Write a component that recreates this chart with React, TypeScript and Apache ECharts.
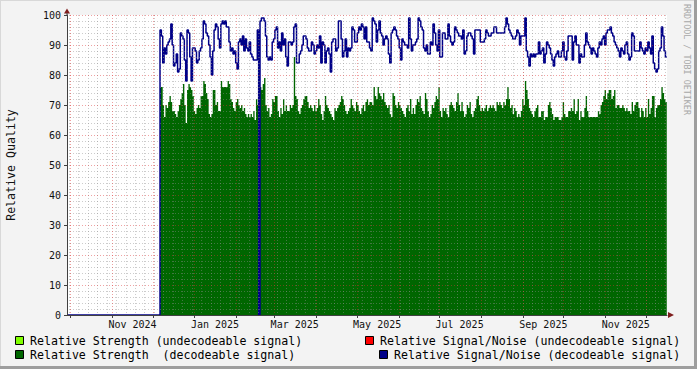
import { useEffect, useRef } from 'react';
import * as echarts from 'echarts';

const DAY = 86400000;
const axisStart = Date.UTC(2024, 8, 28, 12);
const axisDays = 444;
const dataStart = Date.UTC(2024, 11, 6, 8);

const monthNames = ['Jan', 'Feb', 'Mar', 'Apr', 'May', 'Jun', 'Jul', 'Aug', 'Sep', 'Oct', 'Nov', 'Dec'];
const labelMonths: [number, number][] = [[2024, 10], [2025, 0], [2025, 2], [2025, 4], [2025, 6], [2025, 8], [2025, 10]];
const gridMonthsFrom: [number, number] = [2024, 9];
const gridMonthsCount = 15;
const firstMonday = Date.UTC(2024, 8, 30);

const legendLeft = ['Relative Strength (undecodeable signal)', 'Relative Strength  (decodeable signal)'];
const legendRight = ['Relative Signal/Noise (undecodeable signal)', 'Relative Signal/Noise (decodeable signal)'];
const colors = { undecStrength: '#80FF00', decStrength: '#006600', undecSnr: '#FF0000', decSnr: '#000088' };

// Relative Strength (decodeable signal), one value per day from dataStart
const strength = [
  76, 76, 70, 66, 70, 69, 71, 73, 71, 68,
  68, 67, 66, 68, 70, 72, 74, 77, 70, 64,
  75, 77, 76, 75, 73, 68, 67, 69, 70, 69,
  73, 73, 78, 77, 74, 72, 67, 66, 67, 75,
  75, 70, 71, 68, 68, 78, 76, 76, 76, 76,
  78, 77, 72, 71, 69, 68, 71, 72, 70, 69,
  70, 68, 69, 67, 66, 67, 66, 67, 66, 68,
  65, 72, 70, 74, 76, 75, 77, 79, 70, 68,
  69, 66, 67, 72, 71, 73, 73, 68, 66, 69,
  67, 72, 68, 70, 68, 68, 70, 69, 70, 86,
  73, 72, 68, 67, 69, 70, 72, 73, 73, 71,
  69, 70, 69, 68, 70, 68, 69, 72, 70, 67,
  65, 68, 73, 70, 69, 68, 67, 66, 65, 69,
  68, 69, 70, 71, 73, 72, 70, 68, 67, 68,
  69, 72, 70, 69, 68, 71, 70, 68, 67, 69,
  70, 68, 71, 72, 70, 71, 71, 70, 76, 73,
  72, 76, 74, 73, 72, 74, 71, 70, 69, 70,
  67, 66, 74, 73, 70, 69, 71, 70, 69, 68,
  67, 66, 69, 70, 68, 72, 67, 69, 67, 70,
  72, 71, 73, 69, 68, 67, 74, 72, 68, 66,
  67, 70, 69, 71, 73, 72, 76, 68, 66, 69,
  68, 69, 67, 66, 70, 71, 70, 69, 68, 71,
  74, 70, 68, 71, 68, 66, 67, 70, 69, 71,
  67, 66, 68, 69, 72, 73, 70, 68, 69, 68,
  69, 70, 68, 69, 70, 69, 70, 69, 68, 71,
  70, 71, 70, 69, 71, 70, 72, 76, 72, 69,
  70, 67, 69, 68, 66, 67, 66, 68, 72, 70,
  78, 75, 72, 69, 68, 67, 66, 68, 69, 70,
  66, 66, 68, 68, 65, 66, 66, 70, 71, 69,
  67, 65, 66, 66, 66, 65, 65, 66, 71, 67,
  66, 66, 68, 68, 69, 68, 72, 67, 68, 72,
  65, 68, 66, 66, 69, 73, 68, 66, 66, 66,
  66, 66, 66, 66, 68, 67, 70, 71, 73, 75,
  72, 74, 75, 75, 72, 73, 75, 69, 70, 70,
  69, 69, 70, 69, 68, 69, 68, 68, 67, 71,
  68, 70, 71, 71, 69, 66, 69, 68, 66, 69,
  66, 72, 67, 69, 73, 73, 66, 69, 70, 70,
  72, 76, 74, 72, 71,
];

// Relative Signal/Noise (decodeable signal), one value per day from dataStart
const snr = [
  95, 93, 84, 89, 87, 90, 91, 92, 97, 90,
  83, 84, 87, 81, 82, 94, 93, 92, 85, 78,
  95, 94, 86, 78, 89, 89, 88, 84, 85, 88,
  89, 92, 98, 97, 94, 93, 90, 86, 80, 88,
  95, 97, 96, 92, 89, 97, 98, 97, 98, 96,
  96, 91, 88, 89, 87, 88, 84, 82, 91, 92,
  90, 93, 88, 92, 89, 88, 91, 87, 86, 85,
  85, 85, 95, 0, 98, 99, 99, 98, 93, 86,
  85, 86, 85, 91, 92, 95, 96, 89, 91, 88,
  94, 90, 92, 86, 83, 91, 91, 90, 91, 96,
  97, 84, 84, 87, 88, 90, 93, 93, 92, 89,
  88, 88, 91, 90, 87, 88, 90, 89, 93, 84,
  91, 90, 84, 88, 89, 87, 81, 91, 92, 92,
  88, 89, 98, 98, 92, 86, 88, 92, 86, 89,
  88, 89, 96, 95, 91, 91, 94, 96, 95, 97,
  96, 92, 96, 91, 91, 89, 88, 99, 98, 97,
  91, 95, 98, 94, 93, 90, 92, 93, 92, 87,
  84, 94, 95, 96, 95, 93, 92, 89, 85, 92,
  91, 90, 90, 89, 99, 92, 88, 90, 90, 91,
  92, 99, 98, 96, 95, 89, 88, 90, 87, 87,
  91, 90, 97, 94, 90, 88, 95, 86, 86, 94,
  94, 92, 92, 97, 93, 91, 90, 91, 96, 95,
  94, 93, 93, 92, 95, 87, 88, 93, 94, 94,
  93, 92, 87, 95, 95, 95, 95, 91, 91, 91,
  92, 95, 94, 93, 93, 94, 94, 96, 96, 94,
  94, 94, 94, 94, 94, 96, 99, 97, 95, 94,
  93, 92, 92, 93, 95, 94, 90, 93, 93, 93,
  99, 88, 86, 83, 87, 86, 87, 86, 87, 87,
  91, 87, 88, 89, 84, 87, 91, 90, 89, 87,
  85, 83, 86, 87, 88, 86, 86, 88, 91, 86,
  85, 88, 93, 93, 93, 85, 91, 93, 90, 90,
  84, 87, 86, 86, 90, 94, 91, 90, 89, 87,
  89, 88, 87, 86, 89, 91, 90, 92, 93, 90,
  94, 95, 95, 96, 94, 93, 91, 90, 89, 88,
  86, 89, 88, 87, 90, 91, 87, 85, 86, 94,
  93, 88, 88, 88, 88, 91, 89, 88, 87, 89,
  88, 91, 89, 87, 93, 84, 82, 81, 82, 88,
  89, 96, 93, 88, 86,
];

const MONO = "'DejaVu Sans Mono', monospace";

export default function App() {
  const ref = useRef<HTMLDivElement>(null);
  useEffect(() => {
    if (!ref.current) return;
    const chart = echarts.init(ref.current, undefined, { renderer: 'svg' });
    const axisEnd = axisStart + axisDays * DAY;
    const toSeries = (vals: number[]) => {
      const pts: [number, number][] = vals.map((v, i) => [dataStart + i * DAY, v]);
      pts.push([dataStart + vals.length * DAY, vals[vals.length - 1]]);
      return pts;
    };
    const strengthData = toSeries(strength);
    const snrData: [number, number][] = [[axisStart, 0], ...toSeries(snr)];

    const monthStarts: number[] = [];
    for (let i = 0; i < gridMonthsCount; i++) {
      monthStarts.push(Date.UTC(gridMonthsFrom[0], gridMonthsFrom[1] + i, 1));
    }
    const weeks: number[] = [];
    for (let t = firstMonday; t < axisEnd; t += 7 * DAY) weeks.push(t);
    const labelDates = labelMonths.map(([y, m]) => Date.UTC(y, m, 16));
    const fmt = (v: number) => {
      const d = new Date(v);
      return `${monthNames[d.getUTCMonth()]} ${d.getUTCFullYear()}`;
    };
    const minorStyle = { color: 'rgba(143,143,143,0.45)', type: [1, 2], width: 1 };
    const majorStyle = { color: 'rgba(222,48,48,0.45)', type: [1, 2], width: 1 };

    const legendItems: any[] = [];
    const leg = (x: number, y: number, color: string, text: string, tx: number) => {
      legendItems.push({ type: 'rect', shape: { x: x + 0.5, y: y + 0.5, width: 8, height: 8 }, style: { fill: color, stroke: '#000', lineWidth: 1 }, z: 100 });
      legendItems.push({ type: 'text', x: tx, y: y + 5, style: { text, font: `11.6px ${MONO}`, fill: '#000', align: 'left', verticalAlign: 'middle' }, z: 100 });
    };
    leg(15, 336, colors.undecStrength, legendLeft[0], 30);
    leg(15, 350, colors.decStrength, legendLeft[1], 30);
    leg(365, 336, colors.undecSnr, legendRight[0], 380);
    leg(379, 350, colors.decSnr, legendRight[1], 394);

    chart.setOption({
      animation: false,
      backgroundColor: '#F3F3F3',
      grid: { left: 67, top: 15, width: 600, height: 300, show: true, backgroundColor: '#FFFFFF', borderWidth: 0 },
      xAxis: [
        {
          type: 'value', min: axisStart, max: axisEnd, z: 6,
          axisLine: { show: true, onZero: false, lineStyle: { color: '#404040', width: 1 } },
          axisTick: { show: true, length: 3, customValues: monthStarts, lineStyle: { color: '#404040' } },
          axisLabel: { show: true, customValues: labelDates, formatter: fmt, fontFamily: MONO, fontSize: 10, color: '#111', margin: 4 },
          splitLine: { show: true, lineStyle: majorStyle },
        },
        {
          type: 'value', min: axisStart, max: axisEnd, z: 5, position: 'bottom',
          axisLine: { show: false },
          axisTick: { show: false, customValues: weeks },
          axisLabel: { show: false },
          splitLine: { show: true, lineStyle: minorStyle },
        },
      ],
      yAxis: {
        type: 'value', min: 0, max: 100, interval: 10, z: 6,
        axisLine: { show: true, lineStyle: { color: '#404040', width: 1 } },
        axisTick: { show: true, length: 3, lineStyle: { color: '#404040' } },
        axisLabel: { fontFamily: MONO, fontSize: 10, color: '#111', margin: 6 },
        splitLine: { show: true, lineStyle: majorStyle },
        minorTick: { show: false, splitNumber: 5 },
        minorSplitLine: { show: true, lineStyle: minorStyle },
      },
      series: [
        {
          name: legendLeft[1], type: 'line', xAxisIndex: 0, data: strengthData, step: 'end', symbol: 'none',
          lineStyle: { width: 0 }, areaStyle: { color: colors.decStrength, opacity: 1 }, z: 2,
        },
        {
          name: legendRight[1], type: 'line', xAxisIndex: 0, data: snrData, step: 'end', symbol: 'none',
          lineStyle: { width: 1.5, color: colors.decSnr }, z: 3,
        },
      ],
      graphic: [
        { type: 'line', shape: { x1: 0, y1: 0.5, x2: 697, y2: 0.5 }, style: { stroke: '#D8D8D8', lineWidth: 1 }, z: 100 },
        { type: 'line', shape: { x1: 0.5, y1: 0, x2: 0.5, y2: 369 }, style: { stroke: '#D8D8D8', lineWidth: 1 }, z: 100 },
        { type: 'line', shape: { x1: 0, y1: 367.5, x2: 697, y2: 367.5 }, style: { stroke: '#9E9E9E', lineWidth: 3 }, z: 100 },
        { type: 'line', shape: { x1: 695.5, y1: 0, x2: 695.5, y2: 369 }, style: { stroke: '#9E9E9E', lineWidth: 3 }, z: 100 },
        { type: 'polygon', shape: { points: [[64, 13.5], [67, 8.5], [70, 13.5]] }, style: { fill: '#7F1F1F' }, z: 100 },
        { type: 'line', shape: { x1: 67, y1: 13, x2: 67, y2: 15 }, style: { stroke: '#404040', lineWidth: 1 }, z: 100 },
        { type: 'polygon', shape: { points: [[668, 312], [674, 315], [668, 318]] }, style: { fill: '#7F1F1F' }, z: 100 },
        { type: 'text', x: 11, y: 165, rotation: Math.PI / 2, style: { text: 'Relative Quality', font: `11.6px ${MONO}`, fill: '#111', align: 'center', verticalAlign: 'middle' }, z: 100 },
        { type: 'text', x: 687, y: 4, rotation: -Math.PI / 2, style: { text: 'RRDTOOL / TOBI OETIKER', font: `8.4px ${MONO}`, fill: '#A8A8A8', align: 'left', verticalAlign: 'middle' }, z: 100 },
        ...legendItems,
      ],
    });
    return () => chart.dispose();
  }, []);
  return <div ref={ref} style={{ position: 'fixed', left: 0, top: 0, width: 697, height: 369 }} />;
}
